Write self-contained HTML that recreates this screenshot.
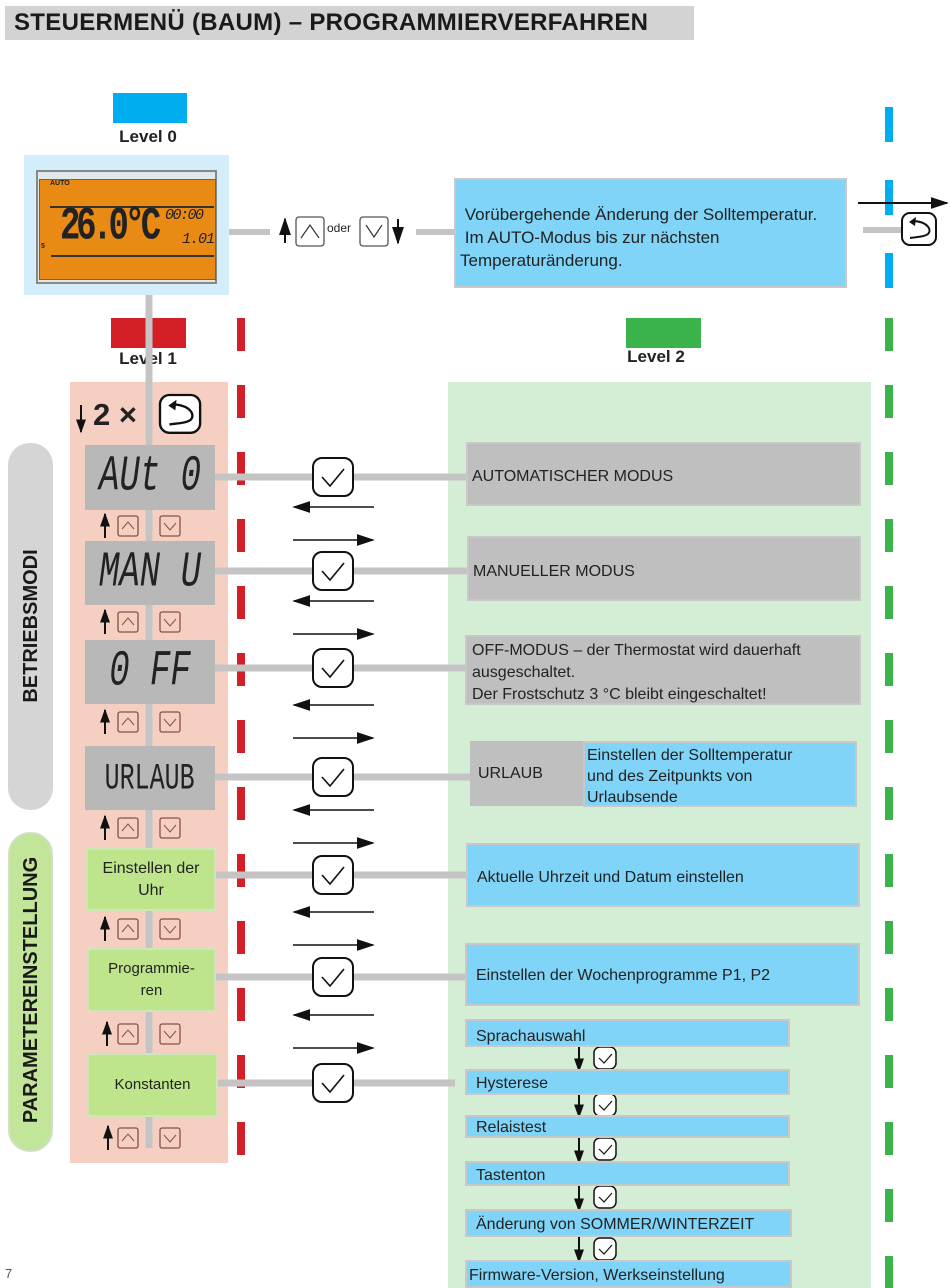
<!DOCTYPE html>
<html><head><meta charset="utf-8">
<style>
body{margin:0;width:950px;height:1288px;position:relative;overflow:hidden;background:#fff;font-family:"Liberation Sans",sans-serif;color:#222}
.a{position:absolute;box-sizing:border-box}
.t{font-size:16px;line-height:22px}
.lcd{font-family:"Liberation Mono",monospace;font-style:italic;color:#222;display:flex;align-items:center;justify-content:center;background:#b8b8b8}
.lcd span{display:inline-block;transform:scale(0.85,1.25);white-space:pre}
.gb{background:#bfbfbf;border:2px solid #c8c8c8}
.bb{background:#7fd4f7;border:2px solid #c8c8c8}
.lg{background:#bfe58c;border:2px solid #cfe6b8;display:flex;align-items:center;justify-content:center;text-align:center;font-size:16px;line-height:22px}
</style></head><body>
<div class="a" style="left:5px;top:6px;width:689px;height:34px;background:#d3d3d3;font-weight:bold;font-size:24px;line-height:34px;padding-left:9px;color:#1a1a1a;letter-spacing:0.3px">STEUERMENÜ (BAUM) – PROGRAMMIERVERFAHREN</div>

<div class="a" style="left:113px;top:93px;width:74px;height:30px;background:#00adef"></div>
<div class="a" style="left:98px;top:127px;width:100px;text-align:center;font-weight:bold;font-size:17px">Level 0</div>
<div class="a" style="left:111px;top:318px;width:75px;height:30px;background:#d41f27"></div>
<div class="a" style="left:98px;top:349px;width:100px;text-align:center;font-weight:bold;font-size:17px">Level 1</div>
<div class="a" style="left:626px;top:318px;width:75px;height:30px;background:#3ab34a"></div>
<div class="a" style="left:606px;top:347px;width:100px;text-align:center;font-weight:bold;font-size:17px">Level 2</div>

<div class="a" style="left:24px;top:155px;width:205px;height:140px;background:#d3eefa"></div>
<div class="a" style="left:36px;top:170px;width:181px;height:114px;background:#e0e8ee;border:2px solid #888"></div>
<div class="a" style="left:39px;top:179px;width:177px;height:101px;background:#e88a14;border:1px solid #666"></div>
<div class="a" style="left:50px;top:180px;font-size:7px;font-weight:bold">AUTO</div>
<div class="a" style="left:41px;top:243px;font-size:7px;font-weight:bold">5</div>
<div class="a" style="left:50px;top:206px;width:164px;height:2px;background:#333"></div>
<div class="a" style="left:51px;top:255px;width:163px;height:2px;background:#333"></div>
<div class="a" style="left:60px;top:203px;font-family:'Liberation Mono',monospace;font-size:40px;line-height:44px;letter-spacing:-5px;transform-origin:0 0;transform:scale(0.85,1.15);white-space:nowrap;font-weight:bold">26.0°C</div>
<div class="a" style="left:165px;top:207px;font-family:'Liberation Mono',monospace;font-size:15px;letter-spacing:-1.5px;font-style:italic">00:00</div>
<div class="a" style="left:182px;top:231px;font-family:'Liberation Mono',monospace;font-size:15px;font-style:italic;letter-spacing:-1px">1.01</div>

<div class="a" style="left:70px;top:382px;width:158px;height:781px;background:#f5cfc2"></div>
<div class="a" style="left:448px;top:382px;width:423px;height:906px;background:#d4eed5"></div>
<div class="a" style="left:8px;top:443px;width:45px;height:367px;background:#d5d5d5;border-radius:22px"></div>
<div class="a" style="left:8px;top:832px;width:45px;height:320px;background:#c2e59a;border:2px solid #cfe0c6;border-radius:22px"></div>
<div class="a" style="left:31px;top:626px;width:0;height:0"><div style="position:absolute;left:-150px;top:-12px;width:300px;text-align:center;transform:rotate(-90deg);font-weight:bold;font-size:20px;line-height:24px;color:#1a1a1a">BETRIEBSMODI</div></div>
<div class="a" style="left:31px;top:990px;width:0;height:0"><div style="position:absolute;left:-160px;top:-12px;width:320px;text-align:center;transform:rotate(-90deg);font-weight:bold;font-size:20px;line-height:24px;color:#1a1a1a">PARAMETEREINSTELLUNG</div></div>

<div class="a" style="left:93px;top:395px;font-weight:bold;font-size:31px;line-height:40px">2 ×</div>

<svg class="a" style="left:0;top:0" width="950" height="1288" viewBox="0 0 950 1288">
<defs>
<marker id="ah" viewBox="0 0 10 10" refX="9" refY="5" markerWidth="14" markerHeight="10" markerUnits="userSpaceOnUse" orient="auto" preserveAspectRatio="none"><path d="M0,0L10,5L0,10z" fill="#111"/></marker>
<marker id="ah2" viewBox="0 0 10 10" refX="9" refY="5" markerWidth="18" markerHeight="12" markerUnits="userSpaceOnUse" orient="auto" preserveAspectRatio="none"><path d="M0,0L10,5L0,10z" fill="#111"/></marker>
<g id="ck"><rect x="0" y="0" width="40" height="38" rx="9" fill="#fff" stroke="#111" stroke-width="2"/><path d="M9,19L17,28L31,11" fill="none" stroke="#111" stroke-width="1.6"/></g>
<g id="sck"><rect x="0" y="0" width="22" height="22" rx="6" fill="#fff" stroke="#111" stroke-width="1.5"/><path d="M5,11L10,16L18,7" fill="none" stroke="#111" stroke-width="1.2"/></g>
<g id="ub"><rect x="0" y="0" width="20" height="20" rx="2" fill="none" stroke="#8a5040" stroke-width="1.3"/><path d="M4,13L10,6L16,13" fill="none" stroke="#8a5040" stroke-width="1"/></g>
<g id="db"><rect x="0" y="0" width="20" height="20" rx="2" fill="none" stroke="#8a5040" stroke-width="1.3"/><path d="M4,7L10,14L16,7" fill="none" stroke="#8a5040" stroke-width="1"/></g>
<g id="rb"><rect x="0" y="0" width="34" height="32" rx="8" fill="#fff" stroke="#111" stroke-width="2"/><path d="M12,8 C26,9 30,17 26,21 C22,24 14,24 8,25" fill="none" stroke="#111" stroke-width="2"/><path d="M7,9L14,4L13,13z" fill="#111"/></g>
</defs>
<line x1="241" y1="318" x2="241" y2="1163" stroke="#d41f27" stroke-width="8" stroke-dasharray="33 34"/>
<line x1="889" y1="107" x2="889" y2="290" stroke="#00adef" stroke-width="8" stroke-dasharray="35 38"/>
<line x1="889" y1="318" x2="889" y2="1288" stroke="#3ab34a" stroke-width="8" stroke-dasharray="33 34"/>
<line x1="149" y1="295" x2="149" y2="1148" stroke="#c4c4c4" stroke-width="7"/>
<line x1="229" y1="232" x2="270" y2="232" stroke="#c4c4c4" stroke-width="6"/>
<line x1="416" y1="232" x2="455" y2="232" stroke="#c4c4c4" stroke-width="6"/>
<line x1="285" y1="243" x2="285" y2="219" stroke="#111" stroke-width="2" marker-end="url(#ah2)"/>
<rect x="296" y="217" width="28" height="29" rx="3" fill="#fff" stroke="#555" stroke-width="1.3"/><path d="M301,238L310,225L319,238" fill="none" stroke="#333" stroke-width="1.2"/>
<text x="327" y="232" font-family="Liberation Sans" font-size="12" fill="#222">oder</text>
<rect x="360" y="217" width="28" height="29" rx="3" fill="#fff" stroke="#555" stroke-width="1.3"/><path d="M366,225L374,237L382,225" fill="none" stroke="#333" stroke-width="1.2"/>
<line x1="398" y1="219" x2="398" y2="243" stroke="#111" stroke-width="2" marker-end="url(#ah2)"/>
<line x1="858" y1="203" x2="947" y2="203" stroke="#111" stroke-width="2" marker-end="url(#ah2)"/>
<line x1="863" y1="230" x2="905" y2="230" stroke="#c4c4c4" stroke-width="6"/>
<use href="#rb" x="902" y="213"/>
<line x1="81" y1="405" x2="81" y2="432" stroke="#111" stroke-width="2" marker-end="url(#ah)"/>
<g transform="translate(160,395) scale(1.18)"><use href="#rb"/></g>
<g stroke="#c4c4c4" stroke-width="7">
<line x1="215" y1="477" x2="466" y2="477"/><line x1="215" y1="571" x2="467" y2="571"/>
<line x1="215" y1="668" x2="465" y2="668"/><line x1="215" y1="777" x2="470" y2="777"/>
<line x1="215" y1="875" x2="466" y2="875"/><line x1="215" y1="977" x2="465" y2="977"/>
<line x1="215" y1="1083" x2="455" y2="1083"/>
</g>
<g>
<use href="#ck" x="313" y="458"/><use href="#ck" x="313" y="552"/><use href="#ck" x="313" y="649"/>
<use href="#ck" x="313" y="758"/><use href="#ck" x="313" y="856"/><use href="#ck" x="313" y="958"/>
<use href="#ck" x="313" y="1064"/>
</g>
<g stroke="#111" stroke-width="1.5">
<line x1="374" y1="507" x2="294" y2="507" marker-end="url(#ah2)"/>
<line x1="374" y1="601" x2="294" y2="601" marker-end="url(#ah2)"/>
<line x1="374" y1="705" x2="294" y2="705" marker-end="url(#ah2)"/>
<line x1="374" y1="810" x2="294" y2="810" marker-end="url(#ah2)"/>
<line x1="374" y1="912" x2="294" y2="912" marker-end="url(#ah2)"/>
<line x1="374" y1="1015" x2="294" y2="1015" marker-end="url(#ah2)"/>
<line x1="293" y1="540" x2="373" y2="540" marker-end="url(#ah2)"/>
<line x1="293" y1="634" x2="373" y2="634" marker-end="url(#ah2)"/>
<line x1="293" y1="738" x2="373" y2="738" marker-end="url(#ah2)"/>
<line x1="293" y1="843" x2="373" y2="843" marker-end="url(#ah2)"/>
<line x1="293" y1="945" x2="373" y2="945" marker-end="url(#ah2)"/>
<line x1="293" y1="1048" x2="373" y2="1048" marker-end="url(#ah2)"/>
</g>
<g>
<line x1="105" y1="538" x2="105" y2="514" stroke="#111" stroke-width="2" marker-end="url(#ah)"/><use href="#ub" x="118" y="516"/><use href="#db" x="160" y="516"/>
<line x1="105" y1="634" x2="105" y2="610" stroke="#111" stroke-width="2" marker-end="url(#ah)"/><use href="#ub" x="118" y="612"/><use href="#db" x="160" y="612"/>
<line x1="105" y1="734" x2="105" y2="710" stroke="#111" stroke-width="2" marker-end="url(#ah)"/><use href="#ub" x="118" y="712"/><use href="#db" x="160" y="712"/>
<line x1="105" y1="840" x2="105" y2="816" stroke="#111" stroke-width="2" marker-end="url(#ah)"/><use href="#ub" x="118" y="818"/><use href="#db" x="160" y="818"/>
<line x1="105" y1="941" x2="105" y2="917" stroke="#111" stroke-width="2" marker-end="url(#ah)"/><use href="#ub" x="118" y="919"/><use href="#db" x="160" y="919"/>
<line x1="107" y1="1046" x2="107" y2="1022" stroke="#111" stroke-width="2" marker-end="url(#ah)"/><use href="#ub" x="118" y="1024"/><use href="#db" x="160" y="1024"/>
<line x1="108" y1="1150" x2="108" y2="1126" stroke="#111" stroke-width="2" marker-end="url(#ah)"/><use href="#ub" x="118" y="1128"/><use href="#db" x="160" y="1128"/>
</g>
<g stroke="#111" stroke-width="2">
<line x1="579" y1="1047" x2="579" y2="1071" marker-end="url(#ah)"/><use href="#sck" x="594" y="1047"/>
<line x1="579" y1="1095" x2="579" y2="1117" marker-end="url(#ah)"/><use href="#sck" x="594" y="1094"/>
<line x1="579" y1="1138" x2="579" y2="1163" marker-end="url(#ah)"/><use href="#sck" x="594" y="1138"/>
<line x1="579" y1="1186" x2="579" y2="1211" marker-end="url(#ah)"/><use href="#sck" x="594" y="1186"/>
<line x1="579" y1="1237" x2="579" y2="1262" marker-end="url(#ah)"/><use href="#sck" x="594" y="1238"/>
</g>
</svg>

<div class="a lcd" style="left:85px;top:445px;width:130px;height:65px;font-size:40px"><span>AUt 0</span></div>
<div class="a lcd" style="left:85px;top:541px;width:130px;height:64px;font-size:40px"><span>MAN U</span></div>
<div class="a lcd" style="left:85px;top:640px;width:130px;height:64px;font-size:40px"><span>0 FF</span></div>
<div class="a lcd" style="left:85px;top:746px;width:130px;height:64px;font-size:32px;font-style:normal"><span style="transform:scale(0.78,1.15)">URLAUB</span></div>
<div class="a lg" style="left:86px;top:848px;width:130px;height:63px">Einstellen der<br>Uhr</div>
<div class="a lg" style="left:87px;top:948px;width:129px;height:64px;font-size:15px">Programmie-<br>ren</div>
<div class="a lg" style="left:87px;top:1053px;width:131px;height:64px;font-size:15px">Konstanten</div>

<div class="a bb t" style="left:454px;top:178px;width:393px;height:110px;padding:23px 0 0 4px;font-size:17px;line-height:23px">&nbsp;Vorübergehende Änderung der Solltemperatur.<br>&nbsp;Im AUTO-Modus bis zur nächsten<br>Temperaturänderung.</div>
<div class="a gb t" style="left:466px;top:442px;width:395px;height:64px;padding:22px 0 0 4px">AUTOMATISCHER MODUS</div>
<div class="a gb t" style="left:467px;top:536px;width:394px;height:65px;padding:23px 0 0 4px">MANUELLER MODUS</div>
<div class="a gb t" style="left:465px;top:635px;width:396px;height:70px;padding:3px 0 0 5px">OFF-MODUS – der Thermostat wird dauerhaft ausgeschaltet.<br>Der Frostschutz 3 °C bleibt eingeschaltet!</div>
<div class="a t" style="left:470px;top:741px;width:114px;height:65px;background:#bfbfbf;padding:22px 0 0 8px">URLAUB</div>
<div class="a bb t" style="left:583px;top:741px;width:274px;height:66px;padding:2px 0 0 2px;line-height:21px">Einstellen der Solltemperatur<br>und des Zeitpunkts von<br>Urlaubsende</div>
<div class="a bb t" style="left:466px;top:843px;width:394px;height:64px;padding:22px 0 0 9px">Aktuelle Uhrzeit und Datum einstellen</div>
<div class="a bb t" style="left:465px;top:943px;width:395px;height:63px;padding:20px 0 0 9px">Einstellen der Wochenprogramme P1, P2</div>
<div class="a bb t" style="left:465px;top:1019px;width:325px;height:28px;padding:5px 0 0 9px">Sprachauswahl</div>
<div class="a bb t" style="left:465px;top:1069px;width:325px;height:26px;padding:2px 0 0 9px">Hysterese</div>
<div class="a bb t" style="left:465px;top:1115px;width:325px;height:23px;padding:0 0 0 9px">Relaistest</div>
<div class="a bb t" style="left:465px;top:1161px;width:325px;height:25px;padding:2px 0 0 9px">Tastenton</div>
<div class="a bb t" style="left:465px;top:1209px;width:327px;height:28px;padding:3px 0 0 9px">Änderung von SOMMER/WINTERZEIT</div>
<div class="a bb t" style="left:465px;top:1260px;width:327px;height:28px;padding:3px 0 0 2px">Firmware-Version, Werkseinstellung</div>

<div class="a" style="left:5px;top:1266px;font-size:13px;color:#555">7</div>
</body></html>
